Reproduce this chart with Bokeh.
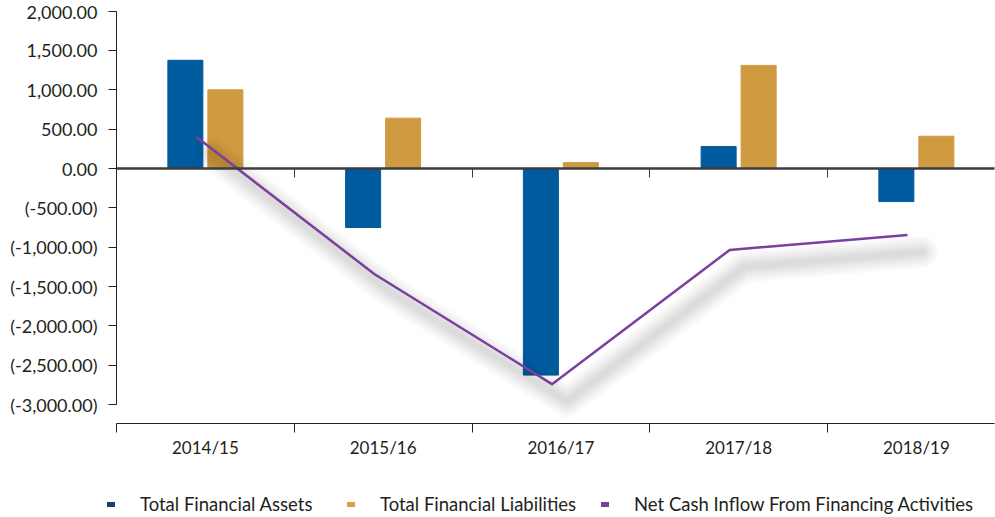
import numpy as np
from bokeh.plotting import figure
from bokeh.models import (Range1d, LinearAxis, FixedTicker, Legend, LegendItem,
                          ColumnDataSource)
from bokeh.transform import dodge
from bokeh.embed import file_html
from bokeh.resources import INLINE

# ---------------- data ----------------
categories = ["2014/15", "2015/16", "2016/17", "2017/18", "2018/19"]
total_financial_assets = [1375, -750, -2625, 280, -420]
total_financial_liabilities = [1000, 640, 75, 1310, 410]
net_cash_inflow = [400, -1340, -2740, -1035, -845]
series_names = ["Total Financial Assets", "Total Financial Liabilities",
                "Net Cash Inflow From Financing Activities"]
y_ticks = [-3000, -2500, -2000, -1500, -1000, -500, 0, 500, 1000, 1500, 2000]
y_tick_labels = ["(-3,000.00)", "(-2,500.00)", "(-2,000.00)", "(-1,500.00)",
                 "(-1,000.00)", "(-500.00)", "0.00", "500.00", "1,000.00",
                 "1,500.00", "2,000.00"]

# ---------------- style / layout ----------------
FONT = "Lato"
TXT = "#231f20"
BLUE = "#005a9e"
GOLD = "#d09a40"
PURPLE = "#7b3f9c"
legend_colors = ["#1d3f6e", "#d9a043", "#7b3f9c"]

W, H = 995, 517
AXIS_LEFT_PX = 116     # page x of the value axis
ZERO_PX = 168          # page y of the zero line
AXIS_PX = 423          # page y of the category axis line
PX_PER_UNIT = 0.0787
PX_PER_CAT = 177.75

n = len(categories)
centers = [i + 0.5 for i in range(n)]
boundaries = [float(i) for i in range(n)]

# the frame fills the whole figure; axes are pinned at fixed locations
X_START = -AXIS_LEFT_PX / PX_PER_CAT
X_END = (W - AXIS_LEFT_PX) / PX_PER_CAT
X_LAST = (W - 1 - AXIS_LEFT_PX) / PX_PER_CAT
Y_END = ZERO_PX / PX_PER_UNIT
Y_START = -(H - ZERO_PX) / PX_PER_UNIT
AXIS_Y = -(AXIS_PX - ZERO_PX) / PX_PER_UNIT

p = figure(width=W, height=H,
           x_range=Range1d(X_START, X_END), y_range=Range1d(Y_START, Y_END),
           output_backend="svg", toolbar_location=None,
           x_axis_type=None, y_axis_type=None,
           min_border_left=0, min_border_right=0,
           min_border_top=0, min_border_bottom=0)
p.outline_line_color = None
p.background_fill_color = "white"
p.border_fill_color = "white"

src = ColumnDataSource(dict(x=centers, assets=total_financial_assets,
                            liab=total_financial_liabilities, net=net_cash_inflow))

bar_w = 0.197
p.vbar(x=dodge("x", -0.1125), top="assets", bottom=0, width=bar_w, source=src,
       fill_color=BLUE, line_color=BLUE)
p.vbar(x=dodge("x", 0.1125), top="liab", bottom=0, width=bar_w, source=src,
       fill_color=GOLD, line_color=GOLD)

# soft drop shadow of the line: same data drawn through shifted ranges
sdx = 15 / PX_PER_CAT
sdy = 17 / PX_PER_UNIT
p.extra_x_ranges = {"shadow_x": Range1d(X_START - sdx, X_END - sdx)}
p.extra_y_ranges = {"shadow_y": Range1d(Y_START + sdy, Y_END + sdy)}
for w in [32, 27, 22, 18, 14, 10, 6]:
    p.line(x=dodge("x", -0.05), y="net", source=src,
           x_range_name="shadow_x", y_range_name="shadow_y",
           line_color="black", line_alpha=0.018, line_width=w,
           line_join="round", line_cap="round")

p.line(x=dodge("x", -0.05), y="net", source=src, line_color=PURPLE,
       line_width=2.5, line_join="miter")

# ---------------- axes ----------------
yaxis = LinearAxis(fixed_location=0,
                   ticker=FixedTicker(ticks=y_ticks),
                   major_label_overrides=dict(zip(y_ticks, y_tick_labels)),
                   bounds=(-3000, 2000),
                   major_tick_in=0, major_tick_out=8,
                   minor_tick_in=0, minor_tick_out=0,
                   axis_line_color=TXT, major_tick_line_color=TXT,
                   major_label_standoff=11,
                   major_label_text_font=FONT,
                   major_label_text_font_size="18px",
                   major_label_text_color=TXT)
p.add_layout(yaxis, "left")

xaxis = LinearAxis(fixed_location=AXIS_Y,
                   ticker=FixedTicker(ticks=centers, minor_ticks=boundaries),
                   major_label_overrides=dict(zip(centers, categories)),
                   bounds=(0, X_LAST),
                   major_tick_in=0, major_tick_out=0,
                   minor_tick_in=0, minor_tick_out=9,
                   axis_line_color=TXT, minor_tick_line_color=TXT,
                   major_label_standoff=4,
                   major_label_text_font=FONT,
                   major_label_text_font_size="17px",
                   major_label_text_color=TXT)
p.add_layout(xaxis, "below")

zero_axis = LinearAxis(fixed_location=0,
                       ticker=FixedTicker(ticks=boundaries[1:]),
                       major_label_overrides={b: "" for b in boundaries[1:]},
                       bounds=(0, X_LAST),
                       axis_line_color="#3d3d3d", axis_line_width=2.5,
                       major_tick_in=0, major_tick_out=9,
                       major_tick_line_color="#3d3d3d",
                       minor_tick_in=0, minor_tick_out=0)
p.add_layout(zero_axis, "below")

# ---------------- legend ----------------
# legend-only renderers (hidden in the plot, drawn as short rounded swatches)
legend_centers_px = [111, 351, 605]   # marker centres on page
LEG_TEXT_CENTER = 505
GW = 8
for name, col, cx in zip(series_names, legend_colors, legend_centers_px):
    r = p.line(x=dodge("x", 0), y="net", source=src, line_color=col,
               line_width=5, line_cap="round", visible=False)
    leg = Legend(items=[LegendItem(label=name, renderers=[r])],
                 location=(cx - GW / 2, H - (LEG_TEXT_CENTER + 10)),
                 orientation="horizontal", padding=0, margin=0, spacing=0,
                 border_line_color=None, background_fill_alpha=0,
                 inactive_fill_alpha=0,
                 glyph_width=GW, glyph_height=20, label_height=20,
                 label_standoff=140 - 111 - GW // 2, label_text_font=FONT,
                 label_text_font_size="18.5px", label_text_color=TXT)
    p.add_layout(leg, "center")

open("out.html", "w").write(file_html(p, INLINE))
